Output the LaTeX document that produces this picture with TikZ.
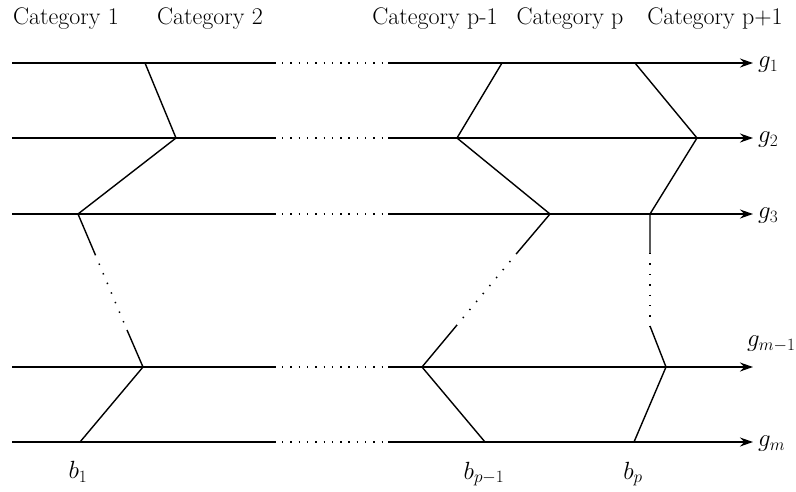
\documentclass[tikz,border=0pt]{standalone}
\usepackage{fontspec}
\usetikzlibrary{arrows.meta}
\begin{document}
\begin{tikzpicture}[x=1pt,y=-1pt,
  rail/.style={line width=1.4pt},
  railend/.style={line width=1.4pt,-{Stealth[length=13pt,width=9pt]}},
  gap/.style={line width=1.7pt,dash pattern=on 1.4pt off 6.9pt},
  zig/.style={line width=1.4pt,line join=miter},
  zigdot/.style={line width=1.5pt,dash pattern=on 1.4pt off 9pt},
  cat/.style={font=\fontsize{24}{28}\selectfont,inner sep=0pt},
  glab/.style={font=\fontsize{27}{31}\selectfont,inner sep=0pt,anchor=west},
  blab/.style={font=\fontsize{27}{31}\selectfont,inner sep=0pt}]
\useasboundingbox (0,0) rectangle (796,491);
% categories
\node[cat] (c1) at (66,19) {Category 1};
\node[cat] (c2) at (210,19) {Category 2};
\node[cat] (c3) at (435,19) {Category p-1};
\node[cat] (c4) at (570,19) {Category p};
\node[cat] (c5) at (715,19) {Category p+1};
% rails
\foreach \n/\y in {1/63,2/138,3/214,4/367,5/442}{
  \coordinate (L\n) at (12,\y);
  \coordinate (M\n) at (276,\y);
  \coordinate (D\n) at (282,\y);
  \coordinate (E\n) at (386,\y);
  \coordinate (R\n) at (388,\y);
  \coordinate (T\n) at (753,\y);
  \draw[rail] (L\n) -- (M\n);
  \draw[gap] (D\n) -- (E\n);
  \draw[railend] (R\n) -- (T\n);
}
\draw[line width=2pt] (L1) -- (M1);
% labels
\node[glab] (g1) at (758,65) {$g_1$};
\node[glab] (g2) at (758,140) {$g_2$};
\node[glab] (g3) at (758,216) {$g_3$};
\node[glab] (g4) at (747,344) {$g_{m-1}$};
\node[glab] (g5) at (758,444) {$g_m$};
\node[blab] (b1) at (78,472) {$b_1$};
\node[blab] (b2) at (484,474) {$b_{p-1}$};
\node[blab] (b3) at (633,474) {$b_p$};
% left zigzag
\coordinate (A1) at (145,63);
\coordinate (A2) at (176,138);
\coordinate (A3) at (78,214);
\coordinate (A4) at (95,254);
\coordinate (A5) at (127,330);
\coordinate (A6) at (143,367);
\coordinate (A7) at (80,442);
\draw[zig] (A1) -- (A2) -- (A3) -- (A4);
\draw[zigdot] (A4) -- (A5);
\draw[zig] (A5) -- (A6) -- (A7);
% middle zigzag
\coordinate (B1) at (502,63);
\coordinate (B2) at (457,138);
\coordinate (B3) at (550,214);
\coordinate (B4) at (517,253);
\coordinate (B5) at (457,325);
\coordinate (B6) at (422,367);
\coordinate (B7) at (485,442);
\draw[zig] (B1) -- (B2) -- (B3) -- (B4);
\draw[zigdot] (B4) -- (B5);
\draw[zig] (B5) -- (B6) -- (B7);
% right zigzag
\coordinate (C1) at (635,63);
\coordinate (C2) at (697,138);
\coordinate (C3) at (650,214);
\coordinate (C4) at (650,253);
\coordinate (C5) at (650,326);
\coordinate (C6) at (666,367);
\coordinate (C7) at (634,442);
\draw[zig] (C1) -- (C2) -- (C3) -- (C4);
\draw[zigdot] (C4) -- (C5);
\draw[zig] (C5) -- (C6) -- (C7);
\end{tikzpicture}
\end{document}
